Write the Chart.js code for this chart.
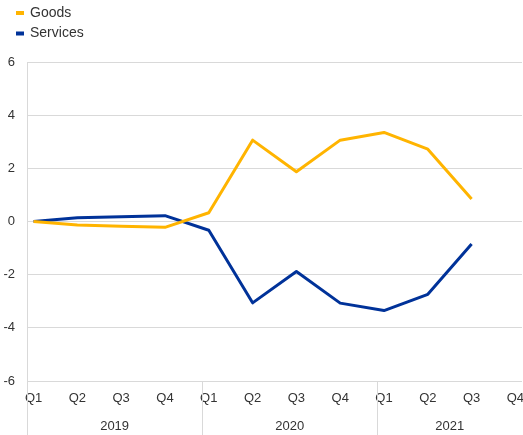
<!DOCTYPE html>
<html>
<head>
<meta charset="utf-8">
<script src="https://cdn.jsdelivr.net/npm/chart.js@4/dist/chart.umd.min.js"></script>
<style>
  html, body { margin: 0; padding: 0; background: #fff; }
</style>
</head>
<body>
<canvas id="chart" width="523" height="435"></canvas>
<script>
// Chart data
const quarters = ['Q1', 'Q2', 'Q3', 'Q4', 'Q1', 'Q2', 'Q3', 'Q4', 'Q1', 'Q2', 'Q3', 'Q4'];
const years = ['2019', '2020', '2021'];
const goods = [0, -0.13, -0.18, -0.22, 0.33, 3.06, 1.87, 3.06, 3.35, 2.72, 0.85, null];
const services = [0, 0.14, 0.18, 0.22, -0.33, -3.06, -1.88, -3.07, -3.35, -2.74, -0.85, null];
const yTicks = [-6, -4, -2, 0, 2, 4, 6];

const FONT = "'Liberation Sans', Arial, sans-serif";
const TEXT = '#333333';
const GRID = '#d9d9d9';

// Year labels, year separators and legend
const extras = {
  id: 'extras',
  afterDraw(chart) {
    const ctx = chart.ctx;
    const x = chart.scales.x;
    const area = chart.chartArea;
    ctx.save();

    // left border + year separators below the plot
    ctx.strokeStyle = GRID;
    ctx.lineWidth = 1;
    ctx.beginPath();
    ctx.moveTo(area.left + 0.5, area.top);
    ctx.lineTo(area.left + 0.5, chart.height);
    years.forEach((y, i) => {
      if (i === 0) return;
      const px = Math.round(x.getPixelForValue(-0.15 + 4 * i)) + 0.5;
      ctx.moveTo(px, area.bottom);
      ctx.lineTo(px, chart.height);
    });
    ctx.stroke();

    // year labels
    ctx.fillStyle = TEXT;
    ctx.font = '13px ' + FONT;
    ctx.textAlign = 'center';
    ctx.textBaseline = 'middle';
    years.forEach((y, i) => {
      const x0 = x.getPixelForValue(-0.15 + 4 * i);
      const x1 = Math.min(x.getPixelForValue(3.85 + 4 * i), area.right);
      ctx.fillText(y, (x0 + x1) / 2, 426);
    });

    // legend
    ctx.font = '14px ' + FONT;
    ctx.textAlign = 'left';
    chart.data.datasets.forEach((ds, i) => {
      const cy = 13 + i * 20.5;
      ctx.fillStyle = ds.borderColor;
      ctx.fillRect(16, cy - 2, 8, 4);
      ctx.fillStyle = TEXT;
      ctx.fillText(ds.label, 30, cy);
    });
    ctx.restore();
  }
};

const chart = new Chart(document.getElementById('chart'), {
  type: 'line',
  data: {
    datasets: [
      {
        label: 'Goods',
        data: goods.map((v, i) => ({ x: i, y: v })),
        borderColor: '#ffb400',
        borderWidth: 3,
        pointRadius: 0,
        borderJoinStyle: 'round',
        tension: 0
      },
      {
        label: 'Services',
        data: services.map((v, i) => ({ x: i, y: v })),
        borderColor: '#003299',
        borderWidth: 3,
        pointRadius: 0,
        borderJoinStyle: 'round',
        tension: 0
      }
    ]
  },
  options: {
    responsive: false,
    animation: false,
    layout: { padding: { top: 62, right: 1, left: 0, bottom: 0 } },
    plugins: {
      legend: { display: false },
      tooltip: { enabled: false }
    },
    scales: {
      x: {
        type: 'linear',
        min: -0.15,
        max: 11.15,
        afterBuildTicks: (scale) => { scale.ticks = quarters.map((q, i) => ({ value: i })); },
        afterFit: (scale) => { scale.height = 54; scale.paddingRight = 0; scale.paddingLeft = 0; },
        ticks: {
          autoSkip: false,
          maxRotation: 0,
          padding: 10,
          color: TEXT,
          font: { family: FONT, size: 13 },
          callback: (v, i) => quarters[i]
        },
        grid: { display: false, drawTicks: false },
        border: { display: false }
      },
      y: {
        min: -6,
        max: 6,
        afterBuildTicks: (scale) => { scale.ticks = yTicks.map((v) => ({ value: v })); },
        afterFit: (scale) => { scale.width = 27; },
        ticks: {
          padding: 12,
          color: TEXT,
          font: { family: FONT, size: 13 }
        },
        grid: { color: GRID, lineWidth: 1, drawTicks: false },
        border: { display: false }
      }
    }
  },
  plugins: [extras]
});
</script>
</body>
</html>
